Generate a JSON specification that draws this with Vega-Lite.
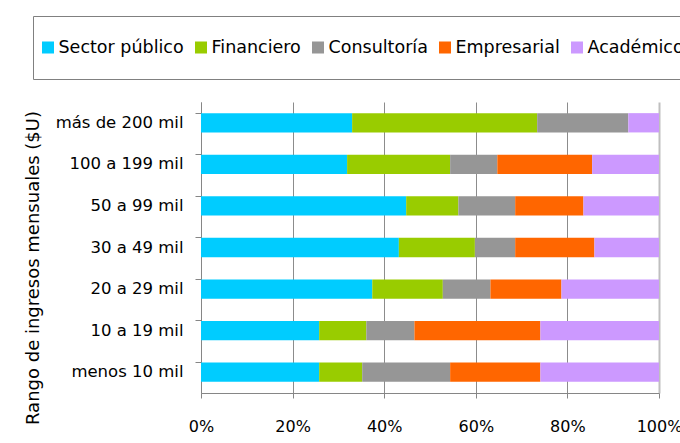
{
  "$schema": "https://vega.github.io/schema/vega-lite/v6.json",
  "width": 458,
  "height": 291,
  "autosize": {"type": "none"},
  "padding": {"left": 201, "top": 102, "right": 21, "bottom": 50},
  "background": "white",
  "config": {
    "font": "DejaVu Sans",
    "view": {"stroke": null},
    "axis": {"labelColor": "black", "titleColor": "black", "labelFont": "DejaVu Sans", "titleFont": "DejaVu Sans"}
  },
  "data": {
    "values": [
      {"rango": "más de 200 mil", "sector": "Sector público", "orden": 1, "valor": 33.0},
      {"rango": "más de 200 mil", "sector": "Financiero", "orden": 2, "valor": 40.4},
      {"rango": "más de 200 mil", "sector": "Consultoría", "orden": 3, "valor": 19.9},
      {"rango": "más de 200 mil", "sector": "Empresarial", "orden": 4, "valor": 0},
      {"rango": "más de 200 mil", "sector": "Académico", "orden": 5, "valor": 6.7},
      {"rango": "100 a 199 mil", "sector": "Sector público", "orden": 1, "valor": 31.9},
      {"rango": "100 a 199 mil", "sector": "Financiero", "orden": 2, "valor": 22.5},
      {"rango": "100 a 199 mil", "sector": "Consultoría", "orden": 3, "valor": 10.3},
      {"rango": "100 a 199 mil", "sector": "Empresarial", "orden": 4, "valor": 20.7},
      {"rango": "100 a 199 mil", "sector": "Académico", "orden": 5, "valor": 14.6},
      {"rango": "50 a 99 mil", "sector": "Sector público", "orden": 1, "valor": 44.8},
      {"rango": "50 a 99 mil", "sector": "Financiero", "orden": 2, "valor": 11.4},
      {"rango": "50 a 99 mil", "sector": "Consultoría", "orden": 3, "valor": 12.4},
      {"rango": "50 a 99 mil", "sector": "Empresarial", "orden": 4, "valor": 14.9},
      {"rango": "50 a 99 mil", "sector": "Académico", "orden": 5, "valor": 16.5},
      {"rango": "30 a 49 mil", "sector": "Sector público", "orden": 1, "valor": 43.2},
      {"rango": "30 a 49 mil", "sector": "Financiero", "orden": 2, "valor": 16.6},
      {"rango": "30 a 49 mil", "sector": "Consultoría", "orden": 3, "valor": 8.8},
      {"rango": "30 a 49 mil", "sector": "Empresarial", "orden": 4, "valor": 17.3},
      {"rango": "30 a 49 mil", "sector": "Académico", "orden": 5, "valor": 14.1},
      {"rango": "20 a 29 mil", "sector": "Sector público", "orden": 1, "valor": 37.4},
      {"rango": "20 a 29 mil", "sector": "Financiero", "orden": 2, "valor": 15.4},
      {"rango": "20 a 29 mil", "sector": "Consultoría", "orden": 3, "valor": 10.4},
      {"rango": "20 a 29 mil", "sector": "Empresarial", "orden": 4, "valor": 15.5},
      {"rango": "20 a 29 mil", "sector": "Académico", "orden": 5, "valor": 21.3},
      {"rango": "10 a 19 mil", "sector": "Sector público", "orden": 1, "valor": 25.8},
      {"rango": "10 a 19 mil", "sector": "Financiero", "orden": 2, "valor": 10.3},
      {"rango": "10 a 19 mil", "sector": "Consultoría", "orden": 3, "valor": 10.5},
      {"rango": "10 a 19 mil", "sector": "Empresarial", "orden": 4, "valor": 27.5},
      {"rango": "10 a 19 mil", "sector": "Académico", "orden": 5, "valor": 25.9},
      {"rango": "menos 10 mil", "sector": "Sector público", "orden": 1, "valor": 25.8},
      {"rango": "menos 10 mil", "sector": "Financiero", "orden": 2, "valor": 9.4},
      {"rango": "menos 10 mil", "sector": "Consultoría", "orden": 3, "valor": 19.2},
      {"rango": "menos 10 mil", "sector": "Empresarial", "orden": 4, "valor": 19.7},
      {"rango": "menos 10 mil", "sector": "Académico", "orden": 5, "valor": 25.9}
    ]
  },
  "mark": {"type": "bar"},
  "encoding": {
    "y": {
      "field": "rango",
      "type": "nominal",
      "sort": ["más de 200 mil", "100 a 199 mil", "50 a 99 mil", "30 a 49 mil", "20 a 29 mil", "10 a 19 mil", "menos 10 mil"],
      "scale": {"paddingInner": 0.536, "paddingOuter": 0.268},
      "axis": {
        "title": "Rango de ingresos mensuales ($U)",
        "titleFontSize": 18,
        "titleFontWeight": "normal",
        "titleX": -159,
        "titleY": 165.5,
        "titleAngle": -90,
        "titleBaseline": "bottom",
        "labelFontSize": 16.5,
        "labelPadding": 12,
        "tickSize": 6,
        "tickColor": "#868686",
        "domainColor": "#868686",
        "bandPosition": 0,
        "grid": false
      }
    },
    "x": {
      "field": "valor",
      "type": "quantitative",
      "stack": "normalize",
      "scale": {"domain": [0, 1]},
      "axis": {
        "title": null,
        "values": [0, 0.2, 0.4, 0.6, 0.8, 1],
        "format": ".0%",
        "labelFlush": false,
        "labelFontSize": 16,
        "labelPadding": 20,
        "tickSize": 5,
        "tickColor": "#868686",
        "domainColor": "#868686",
        "grid": true,
        "gridColor": {"condition": {"test": "datum.value === 1", "value": "#bfbfbf"}, "value": "#8c8c8c"},
        "gridWidth": {"condition": {"test": "datum.value === 1", "value": 2}, "value": 1}
      }
    },
    "color": {
      "field": "sector",
      "type": "nominal",
      "scale": {
        "domain": ["Sector público", "Financiero", "Consultoría", "Empresarial", "Académico"],
        "range": ["#00CCFF", "#99CC00", "#969696", "#FF6600", "#CC99FF"]
      },
      "legend": {
        "orient": "none",
        "legendX": -168,
        "legendY": -86,
        "direction": "horizontal",
        "title": null,
        "symbolType": "M-1,-0.2667H-0.4667V0.2667H-1Z M-1,-1V1",
        "symbolSize": 2025,
        "symbolStrokeWidth": 0,
        "symbolOffset": 0,
        "symbolOpacity": 1,
        "labelFontSize": 17.5,
        "labelFont": "DejaVu Sans",
        "labelColor": "black",
        "labelOffset": -28.5,
        "columnPadding": 11,
        "strokeColor": "#808080",
        "fillColor": "white",
        "padding": 9
      }
    },
    "order": {"field": "orden", "type": "quantitative"}
  }
}
